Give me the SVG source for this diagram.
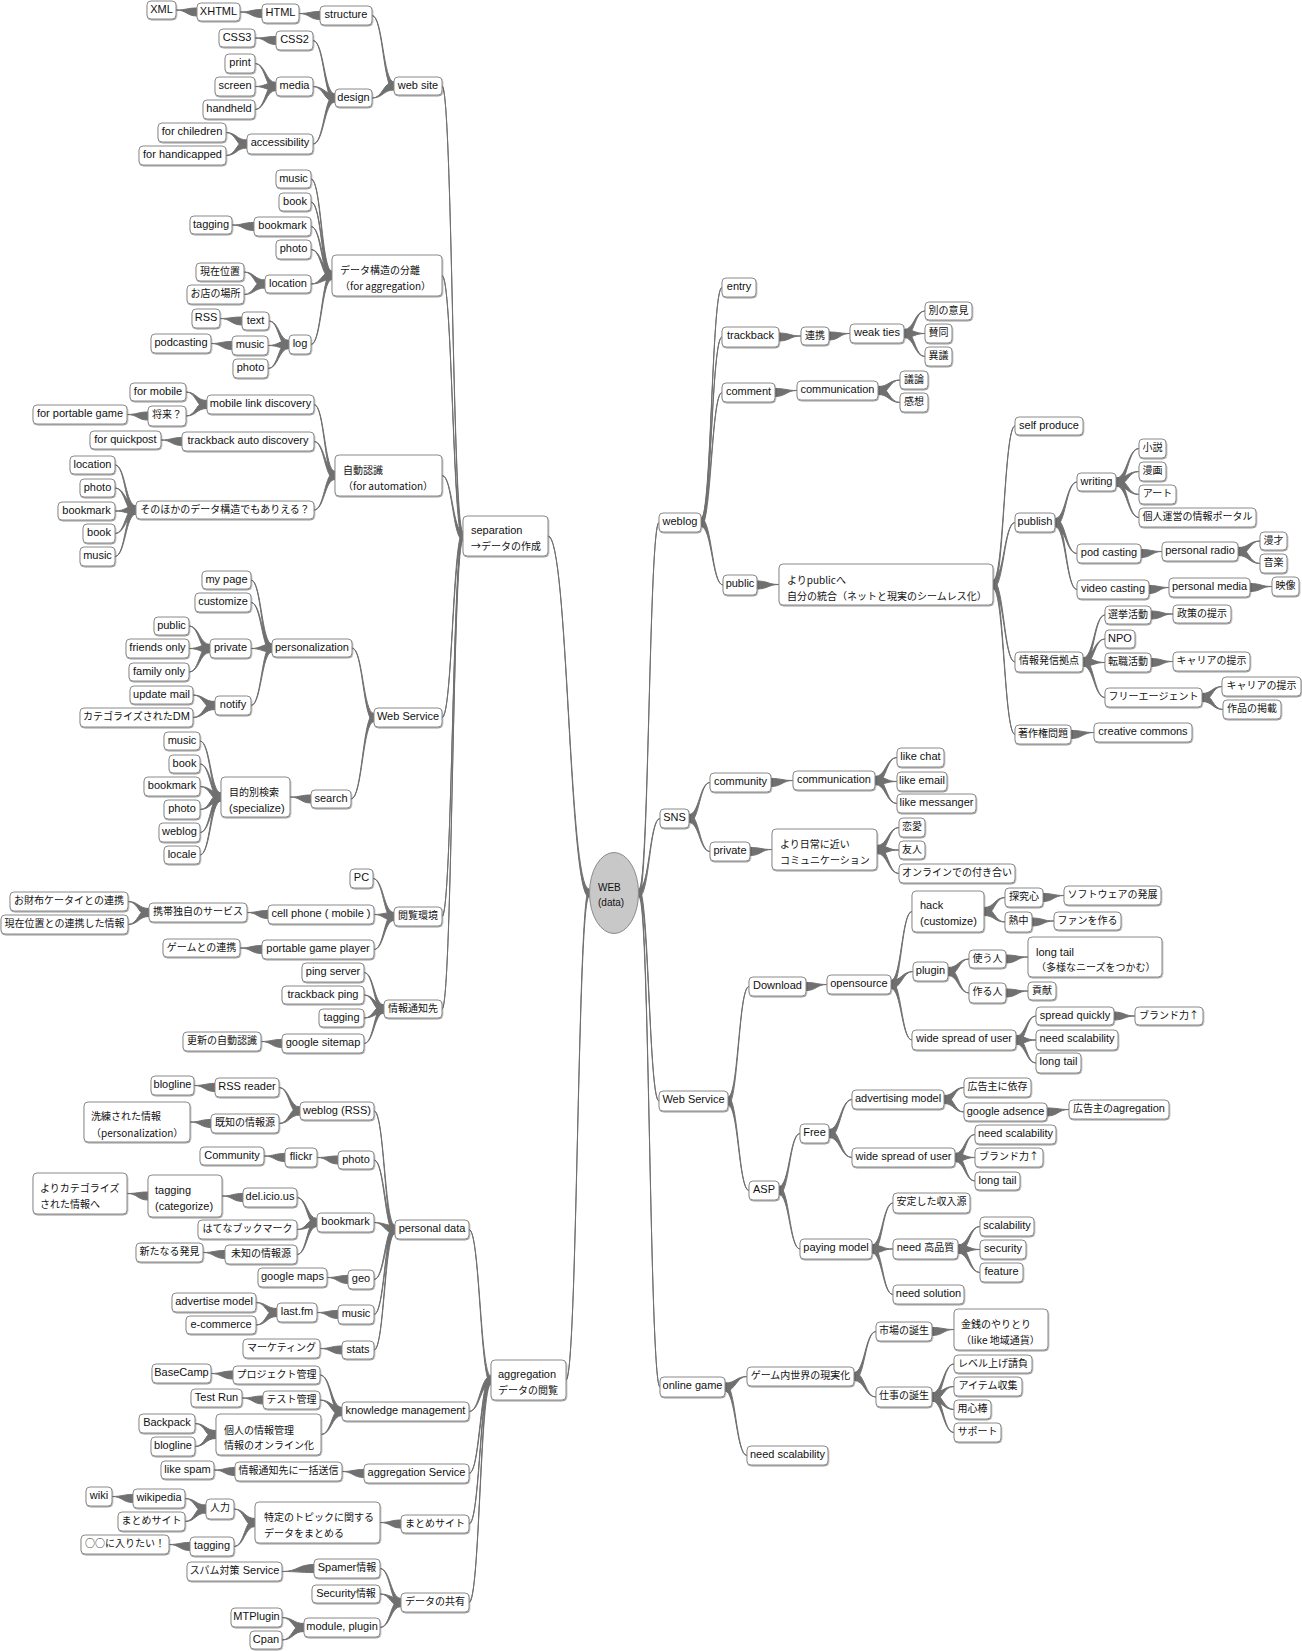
<svg xmlns="http://www.w3.org/2000/svg" width="1302" height="1651" viewBox="0 0 1302 1651">
<defs>
<filter id="sh" x="-10%" y="-20%" width="130%" height="160%"><feDropShadow dx="0.5" dy="1" stdDeviation="0.5" flood-color="#000" flood-opacity="0.4"/></filter>
<style>
#links path{fill:#707070;stroke:#707070;stroke-width:1;stroke-linejoin:round}
.n rect{fill:#fff;stroke:#8a8a8a;stroke-width:1;rx:4px;ry:4px;filter:url(#sh)}
.n text{font-family:"Liberation Sans","Noto Sans CJK JP",sans-serif;font-size:11px;fill:#111;text-anchor:middle}
.n text.l{text-anchor:start}
.n text.j,.n tspan.j{font-size:10px;font-family:"Noto Sans CJK JP","Liberation Sans",sans-serif}
#root ellipse{fill:#c8c8c8;stroke:#8a8a8a;stroke-width:1}
#root text{font-family:"Liberation Sans",sans-serif;font-size:10px;fill:#111}
</style>
</defs>
<rect width="1302" height="1651" fill="#fff"/>
<g id="links">
<path d="M548 536C568.5 536 568.5 889 589 889V897C568.5 897 568.5 536 548 536Z"/>
<path d="M566 1380C577.5 1380 577.5 889 589 889V897C577.5 897 577.5 1380 566 1380Z"/>
<path d="M442 86C452.5 86 452.5 532 463 532V540C452.5 540 452.5 86 442 86Z"/>
<path d="M442 275.5C452.5 275.5 452.5 532 463 532V540C452.5 540 452.5 275.5 442 275.5Z"/>
<path d="M442 475.5C452.5 475.5 452.5 532 463 532V540C452.5 540 452.5 475.5 442 475.5Z"/>
<path d="M442 717.5C452.5 717.5 452.5 532 463 532V540C452.5 540 452.5 717.5 442 717.5Z"/>
<path d="M442 916.5C452.5 916.5 452.5 532 463 532V540C452.5 540 452.5 916.5 442 916.5Z"/>
<path d="M442 1009C452.5 1009 452.5 532 463 532V540C452.5 540 452.5 1009 442 1009Z"/>
<path d="M372 15.5C383 15.5 383 82 394 82V90C383 90 383 15.5 372 15.5Z"/>
<path d="M372 98C383 98 383 82 394 82V90C383 90 383 98 372 98Z"/>
<path d="M299 13.5C309.5 13.5 309.5 11.5 320 11.5V19.5C309.5 19.5 309.5 13.5 299 13.5Z"/>
<path d="M240 12C251 12 251 9.5 262 9.5V17.5C251 17.5 251 12 240 12Z"/>
<path d="M176 10C186.5 10 186.5 8 197 8V16C186.5 16 186.5 10 176 10Z"/>
<path d="M313 40.5C324 40.5 324 94 335 94V102C324 102 324 40.5 313 40.5Z"/>
<path d="M313 86.5C324 86.5 324 94 335 94V102C324 102 324 86.5 313 86.5Z"/>
<path d="M313 144C324 144 324 94 335 94V102C324 102 324 144 313 144Z"/>
<path d="M255 38C265.5 38 265.5 36.5 276 36.5V44.5C265.5 44.5 265.5 38 255 38Z"/>
<path d="M255 63.5C265.5 63.5 265.5 82.5 276 82.5V90.5C265.5 90.5 265.5 63.5 255 63.5Z"/>
<path d="M255 86.5C265.5 86.5 265.5 82.5 276 82.5V90.5C265.5 90.5 265.5 86.5 255 86.5Z"/>
<path d="M255 109.5C265.5 109.5 265.5 82.5 276 82.5V90.5C265.5 90.5 265.5 109.5 255 109.5Z"/>
<path d="M226 132.5C236.5 132.5 236.5 140 247 140V148C236.5 148 236.5 132.5 226 132.5Z"/>
<path d="M226 155.5C236.5 155.5 236.5 140 247 140V148C236.5 148 236.5 155.5 226 155.5Z"/>
<path d="M311 179C321.5 179 321.5 271.5 332 271.5V279.5C321.5 279.5 321.5 179 311 179Z"/>
<path d="M311 202C321.5 202 321.5 271.5 332 271.5V279.5C321.5 279.5 321.5 202 311 202Z"/>
<path d="M311 226.5C321.5 226.5 321.5 271.5 332 271.5V279.5C321.5 279.5 321.5 226.5 311 226.5Z"/>
<path d="M311 249.5C321.5 249.5 321.5 271.5 332 271.5V279.5C321.5 279.5 321.5 249.5 311 249.5Z"/>
<path d="M311 284C321.5 284 321.5 271.5 332 271.5V279.5C321.5 279.5 321.5 284 311 284Z"/>
<path d="M311 344.5C321.5 344.5 321.5 271.5 332 271.5V279.5C321.5 279.5 321.5 344.5 311 344.5Z"/>
<path d="M232 225C243 225 243 222.5 254 222.5V230.5C243 230.5 243 225 232 225Z"/>
<path d="M244 272C254.5 272 254.5 280 265 280V288C254.5 288 254.5 272 244 272Z"/>
<path d="M244 294.5C254.5 294.5 254.5 280 265 280V288C254.5 288 254.5 294.5 244 294.5Z"/>
<path d="M269 321C279 321 279 340.5 289 340.5V348.5C279 348.5 279 321 269 321Z"/>
<path d="M268 345.5C278.5 345.5 278.5 340.5 289 340.5V348.5C278.5 348.5 278.5 345.5 268 345.5Z"/>
<path d="M268 368.5C278.5 368.5 278.5 340.5 289 340.5V348.5C278.5 348.5 278.5 368.5 268 368.5Z"/>
<path d="M220 318.5C231 318.5 231 317 242 317V325C231 325 231 318.5 220 318.5Z"/>
<path d="M211 343.5C221.5 343.5 221.5 341.5 232 341.5V349.5C221.5 349.5 221.5 343.5 211 343.5Z"/>
<path d="M314 404.5C324.5 404.5 324.5 471.5 335 471.5V479.5C324.5 479.5 324.5 404.5 314 404.5Z"/>
<path d="M314 441.5C324.5 441.5 324.5 471.5 335 471.5V479.5C324.5 479.5 324.5 441.5 314 441.5Z"/>
<path d="M314 510C324.5 510 324.5 471.5 335 471.5V479.5C324.5 479.5 324.5 510 314 510Z"/>
<path d="M186 392C196.5 392 196.5 400.5 207 400.5V408.5C196.5 408.5 196.5 392 186 392Z"/>
<path d="M186 416C196.5 416 196.5 400.5 207 400.5V408.5C196.5 408.5 196.5 416 186 416Z"/>
<path d="M127 414.5C137.5 414.5 137.5 412 148 412V420C137.5 420 137.5 414.5 127 414.5Z"/>
<path d="M161 440C171.5 440 171.5 437.5 182 437.5V445.5C171.5 445.5 171.5 440 161 440Z"/>
<path d="M115 465C125.5 465 125.5 506 136 506V514C125.5 514 125.5 465 115 465Z"/>
<path d="M115 488C125.5 488 125.5 506 136 506V514C125.5 514 125.5 488 115 488Z"/>
<path d="M115 511C125.5 511 125.5 506 136 506V514C125.5 514 125.5 511 115 511Z"/>
<path d="M115 533.5C125.5 533.5 125.5 506 136 506V514C125.5 514 125.5 533.5 115 533.5Z"/>
<path d="M115 556.5C125.5 556.5 125.5 506 136 506V514C125.5 514 125.5 556.5 115 556.5Z"/>
<path d="M352 648C363 648 363 713.5 374 713.5V721.5C363 721.5 363 648 352 648Z"/>
<path d="M351 799C362.5 799 362.5 713.5 374 713.5V721.5C362.5 721.5 362.5 799 351 799Z"/>
<path d="M251 580C261.5 580 261.5 644 272 644V652C261.5 652 261.5 580 251 580Z"/>
<path d="M251 602.5C261.5 602.5 261.5 644 272 644V652C261.5 652 261.5 602.5 251 602.5Z"/>
<path d="M251 648.5C261.5 648.5 261.5 644 272 644V652C261.5 652 261.5 648.5 251 648.5Z"/>
<path d="M251 705.5C261.5 705.5 261.5 644 272 644V652C261.5 652 261.5 705.5 251 705.5Z"/>
<path d="M189 626C199.5 626 199.5 644.5 210 644.5V652.5C199.5 652.5 199.5 626 189 626Z"/>
<path d="M189 648.5C199.5 648.5 199.5 644.5 210 644.5V652.5C199.5 652.5 199.5 648.5 189 648.5Z"/>
<path d="M189 672C199.5 672 199.5 644.5 210 644.5V652.5C199.5 652.5 199.5 672 189 672Z"/>
<path d="M193 695C204 695 204 701.5 215 701.5V709.5C204 709.5 204 695 193 695Z"/>
<path d="M193 717.5C204 717.5 204 701.5 215 701.5V709.5C204 709.5 204 717.5 193 717.5Z"/>
<path d="M290 797C300.5 797 300.5 795 311 795V803C300.5 803 300.5 797 290 797Z"/>
<path d="M200 741C210.5 741 210.5 793 221 793V801C210.5 801 210.5 741 200 741Z"/>
<path d="M200 764C210.5 764 210.5 793 221 793V801C210.5 801 210.5 764 200 764Z"/>
<path d="M200 786.5C210.5 786.5 210.5 793 221 793V801C210.5 801 210.5 786.5 200 786.5Z"/>
<path d="M200 809.5C210.5 809.5 210.5 793 221 793V801C210.5 801 210.5 809.5 200 809.5Z"/>
<path d="M200 832.5C210.5 832.5 210.5 793 221 793V801C210.5 801 210.5 832.5 200 832.5Z"/>
<path d="M200 855C210.5 855 210.5 793 221 793V801C210.5 801 210.5 855 200 855Z"/>
<path d="M373 878.5C383.5 878.5 383.5 912.5 394 912.5V920.5C383.5 920.5 383.5 878.5 373 878.5Z"/>
<path d="M374 914.5C384 914.5 384 912.5 394 912.5V920.5C384 920.5 384 914.5 374 914.5Z"/>
<path d="M374 949.5C384 949.5 384 912.5 394 912.5V920.5C384 920.5 384 949.5 374 949.5Z"/>
<path d="M247 912.5C257.5 912.5 257.5 910.5 268 910.5V918.5C257.5 918.5 257.5 912.5 247 912.5Z"/>
<path d="M128 901.5C138.5 901.5 138.5 908.5 149 908.5V916.5C138.5 916.5 138.5 901.5 128 901.5Z"/>
<path d="M128 924.5C138.5 924.5 138.5 908.5 149 908.5V916.5C138.5 916.5 138.5 924.5 128 924.5Z"/>
<path d="M240 948C251 948 251 945.5 262 945.5V953.5C251 953.5 251 948 240 948Z"/>
<path d="M364 972.5C374 972.5 374 1005 384 1005V1013C374 1013 374 972.5 364 972.5Z"/>
<path d="M364 995C374 995 374 1005 384 1005V1013C374 1013 374 995 364 995Z"/>
<path d="M364 1018C374 1018 374 1005 384 1005V1013C374 1013 374 1018 364 1018Z"/>
<path d="M364 1043.5C374 1043.5 374 1005 384 1005V1013C374 1013 374 1043.5 364 1043.5Z"/>
<path d="M261 1041.5C271.5 1041.5 271.5 1039.5 282 1039.5V1047.5C271.5 1047.5 271.5 1041.5 261 1041.5Z"/>
<path d="M469 1229.5C480 1229.5 480 1376 491 1376V1384C480 1384 480 1229.5 469 1229.5Z"/>
<path d="M469 1411.5C480 1411.5 480 1376 491 1376V1384C480 1384 480 1411.5 469 1411.5Z"/>
<path d="M469 1473.5C480 1473.5 480 1376 491 1376V1384C480 1384 480 1473.5 469 1473.5Z"/>
<path d="M469 1524C480 1524 480 1376 491 1376V1384C480 1384 480 1524 469 1524Z"/>
<path d="M469 1602.5C480 1602.5 480 1376 491 1376V1384C480 1384 480 1602.5 469 1602.5Z"/>
<path d="M374 1111C384.5 1111 384.5 1225.5 395 1225.5V1233.5C384.5 1233.5 384.5 1111 374 1111Z"/>
<path d="M374 1160C384.5 1160 384.5 1225.5 395 1225.5V1233.5C384.5 1233.5 384.5 1160 374 1160Z"/>
<path d="M374 1222.5C384.5 1222.5 384.5 1225.5 395 1225.5V1233.5C384.5 1233.5 384.5 1222.5 374 1222.5Z"/>
<path d="M374 1279.5C384.5 1279.5 384.5 1225.5 395 1225.5V1233.5C384.5 1233.5 384.5 1279.5 374 1279.5Z"/>
<path d="M374 1314.5C384.5 1314.5 384.5 1225.5 395 1225.5V1233.5C384.5 1233.5 384.5 1314.5 374 1314.5Z"/>
<path d="M374 1350C384.5 1350 384.5 1225.5 395 1225.5V1233.5C384.5 1233.5 384.5 1350 374 1350Z"/>
<path d="M279 1087.5C289.5 1087.5 289.5 1107 300 1107V1115C289.5 1115 289.5 1087.5 279 1087.5Z"/>
<path d="M279 1123.5C289.5 1123.5 289.5 1107 300 1107V1115C289.5 1115 289.5 1123.5 279 1123.5Z"/>
<path d="M194 1085.5C204.5 1085.5 204.5 1083.5 215 1083.5V1091.5C204.5 1091.5 204.5 1085.5 194 1085.5Z"/>
<path d="M190 1122C200.5 1122 200.5 1119.5 211 1119.5V1127.5C200.5 1127.5 200.5 1122 190 1122Z"/>
<path d="M317 1157.5C327.5 1157.5 327.5 1156 338 1156V1164C327.5 1164 327.5 1157.5 317 1157.5Z"/>
<path d="M264 1156C274.5 1156 274.5 1153.5 285 1153.5V1161.5C274.5 1161.5 274.5 1156 264 1156Z"/>
<path d="M297 1197.5C307 1197.5 307 1218.5 317 1218.5V1226.5C307 1226.5 307 1197.5 297 1197.5Z"/>
<path d="M297 1229.5C307 1229.5 307 1218.5 317 1218.5V1226.5C307 1226.5 307 1229.5 297 1229.5Z"/>
<path d="M297 1254.5C307 1254.5 307 1218.5 317 1218.5V1226.5C307 1226.5 307 1254.5 297 1254.5Z"/>
<path d="M222 1196C232.5 1196 232.5 1193.5 243 1193.5V1201.5C232.5 1201.5 232.5 1196 222 1196Z"/>
<path d="M127 1193.5C137.5 1193.5 137.5 1192 148 1192V1200C137.5 1200 137.5 1193.5 127 1193.5Z"/>
<path d="M203 1252.5C214 1252.5 214 1250.5 225 1250.5V1258.5C214 1258.5 214 1252.5 203 1252.5Z"/>
<path d="M327 1277.5C337.5 1277.5 337.5 1275.5 348 1275.5V1283.5C337.5 1283.5 337.5 1277.5 327 1277.5Z"/>
<path d="M317 1312.5C327.5 1312.5 327.5 1310.5 338 1310.5V1318.5C327.5 1318.5 327.5 1312.5 317 1312.5Z"/>
<path d="M256 1302.5C266.5 1302.5 266.5 1308.5 277 1308.5V1316.5C266.5 1316.5 266.5 1302.5 256 1302.5Z"/>
<path d="M256 1325C266.5 1325 266.5 1308.5 277 1308.5V1316.5C266.5 1316.5 266.5 1325 256 1325Z"/>
<path d="M320 1348.5C331 1348.5 331 1346 342 1346V1354C331 1354 331 1348.5 320 1348.5Z"/>
<path d="M320 1375C331 1375 331 1407.5 342 1407.5V1415.5C331 1415.5 331 1375 320 1375Z"/>
<path d="M320 1400C331 1400 331 1407.5 342 1407.5V1415.5C331 1415.5 331 1400 320 1400Z"/>
<path d="M321 1434.5C331.5 1434.5 331.5 1407.5 342 1407.5V1415.5C331.5 1415.5 331.5 1434.5 321 1434.5Z"/>
<path d="M211 1373.5C222 1373.5 222 1371 233 1371V1379C222 1379 222 1373.5 211 1373.5Z"/>
<path d="M242 1398C252.5 1398 252.5 1396 263 1396V1404C252.5 1404 252.5 1398 242 1398Z"/>
<path d="M195 1423.5C205.5 1423.5 205.5 1430.5 216 1430.5V1438.5C205.5 1438.5 205.5 1423.5 195 1423.5Z"/>
<path d="M195 1446.5C205.5 1446.5 205.5 1430.5 216 1430.5V1438.5C205.5 1438.5 205.5 1446.5 195 1446.5Z"/>
<path d="M342 1471.5C353 1471.5 353 1469.5 364 1469.5V1477.5C353 1477.5 353 1471.5 342 1471.5Z"/>
<path d="M214 1470C224.5 1470 224.5 1467.5 235 1467.5V1475.5C224.5 1475.5 224.5 1470 214 1470Z"/>
<path d="M380 1522.5C390.5 1522.5 390.5 1520 401 1520V1528C390.5 1528 390.5 1522.5 380 1522.5Z"/>
<path d="M234 1509C244.5 1509 244.5 1518.5 255 1518.5V1526.5C244.5 1526.5 244.5 1509 234 1509Z"/>
<path d="M234 1546.5C244.5 1546.5 244.5 1518.5 255 1518.5V1526.5C244.5 1526.5 244.5 1546.5 234 1546.5Z"/>
<path d="M185 1498.5C195.5 1498.5 195.5 1505 206 1505V1513C195.5 1513 195.5 1498.5 185 1498.5Z"/>
<path d="M185 1521.5C195.5 1521.5 195.5 1505 206 1505V1513C195.5 1513 195.5 1521.5 185 1521.5Z"/>
<path d="M112 1496.5C122.5 1496.5 122.5 1494.5 133 1494.5V1502.5C122.5 1502.5 122.5 1496.5 112 1496.5Z"/>
<path d="M169 1544.5C179.5 1544.5 179.5 1542.5 190 1542.5V1550.5C179.5 1550.5 179.5 1544.5 169 1544.5Z"/>
<path d="M380 1568.5C390.5 1568.5 390.5 1598.5 401 1598.5V1606.5C390.5 1606.5 390.5 1568.5 380 1568.5Z"/>
<path d="M380 1594C390.5 1594 390.5 1598.5 401 1598.5V1606.5C390.5 1606.5 390.5 1594 380 1594Z"/>
<path d="M380 1627.5C390.5 1627.5 390.5 1598.5 401 1598.5V1606.5C390.5 1606.5 390.5 1627.5 380 1627.5Z"/>
<path d="M282 1571.5C298 1571.5 298 1564.5 314 1564.5V1572.5C298 1572.5 298 1571.5 282 1571.5Z"/>
<path d="M282 1617.5C293 1617.5 293 1623.5 304 1623.5V1631.5C293 1631.5 293 1617.5 282 1617.5Z"/>
<path d="M282 1640C293 1640 293 1623.5 304 1623.5V1631.5C293 1631.5 293 1640 282 1640Z"/>
<path d="M659 522.5C649 522.5 649 889 639 889V897C649 897 649 522.5 659 522.5Z"/>
<path d="M660 818.5C649.5 818.5 649.5 889 639 889V897C649.5 897 649.5 818.5 660 818.5Z"/>
<path d="M659 1101C649 1101 649 889 639 889V897C649 897 649 1101 659 1101Z"/>
<path d="M660 1387C649.5 1387 649.5 889 639 889V897C649.5 897 649.5 1387 660 1387Z"/>
<path d="M722 287.5C711.5 287.5 711.5 518.5 701 518.5V526.5C711.5 526.5 711.5 287.5 722 287.5Z"/>
<path d="M722 337C711.5 337 711.5 518.5 701 518.5V526.5C711.5 526.5 711.5 337 722 337Z"/>
<path d="M722 392.5C711.5 392.5 711.5 518.5 701 518.5V526.5C711.5 526.5 711.5 392.5 722 392.5Z"/>
<path d="M723 585C712 585 712 518.5 701 518.5V526.5C712 526.5 712 585 723 585Z"/>
<path d="M801 336C790 336 790 333 779 333V341C790 341 790 336 801 336Z"/>
<path d="M850 333.5C839.5 333.5 839.5 332 829 332V340C839.5 340 839.5 333.5 850 333.5Z"/>
<path d="M925 311C914.5 311 914.5 329.5 904 329.5V337.5C914.5 337.5 914.5 311 925 311Z"/>
<path d="M925 333.5C914.5 333.5 914.5 329.5 904 329.5V337.5C914.5 337.5 914.5 333.5 925 333.5Z"/>
<path d="M925 356.5C914.5 356.5 914.5 329.5 904 329.5V337.5C914.5 337.5 914.5 356.5 925 356.5Z"/>
<path d="M797 390.5C786 390.5 786 388.5 775 388.5V396.5C786 396.5 786 390.5 797 390.5Z"/>
<path d="M900 380C889 380 889 386.5 878 386.5V394.5C889 394.5 889 380 900 380Z"/>
<path d="M900 402.5C889 402.5 889 386.5 878 386.5V394.5C889 394.5 889 402.5 900 402.5Z"/>
<path d="M779 584.5C768 584.5 768 581 757 581V589C768 589 768 584.5 779 584.5Z"/>
<path d="M1015 426C1004 426 1004 580.5 993 580.5V588.5C1004 588.5 1004 426 1015 426Z"/>
<path d="M1015 522.5C1004 522.5 1004 580.5 993 580.5V588.5C1004 588.5 1004 522.5 1015 522.5Z"/>
<path d="M1015 662C1004 662 1004 580.5 993 580.5V588.5C1004 588.5 1004 662 1015 662Z"/>
<path d="M1015 734.5C1004 734.5 1004 580.5 993 580.5V588.5C1004 588.5 1004 734.5 1015 734.5Z"/>
<path d="M1077 482C1066 482 1066 518.5 1055 518.5V526.5C1066 526.5 1066 482 1077 482Z"/>
<path d="M1077 553.5C1066 553.5 1066 518.5 1055 518.5V526.5C1066 526.5 1066 553.5 1077 553.5Z"/>
<path d="M1077 589.5C1066 589.5 1066 518.5 1055 518.5V526.5C1066 526.5 1066 589.5 1077 589.5Z"/>
<path d="M1139 448.5C1127.5 448.5 1127.5 478 1116 478V486C1127.5 486 1127.5 448.5 1139 448.5Z"/>
<path d="M1139 471.5C1127.5 471.5 1127.5 478 1116 478V486C1127.5 486 1127.5 471.5 1139 471.5Z"/>
<path d="M1139 494.5C1127.5 494.5 1127.5 478 1116 478V486C1127.5 486 1127.5 494.5 1139 494.5Z"/>
<path d="M1139 517.5C1127.5 517.5 1127.5 478 1116 478V486C1127.5 486 1127.5 517.5 1139 517.5Z"/>
<path d="M1162 551.5C1151.5 551.5 1151.5 549.5 1141 549.5V557.5C1151.5 557.5 1151.5 551.5 1162 551.5Z"/>
<path d="M1260 541C1249 541 1249 547.5 1238 547.5V555.5C1249 555.5 1249 541 1260 541Z"/>
<path d="M1260 563.5C1249 563.5 1249 547.5 1238 547.5V555.5C1249 555.5 1249 563.5 1260 563.5Z"/>
<path d="M1169 587.5C1159 587.5 1159 585.5 1149 585.5V593.5C1159 593.5 1159 587.5 1169 587.5Z"/>
<path d="M1272 586.5C1261 586.5 1261 583.5 1250 583.5V591.5C1261 591.5 1261 586.5 1272 586.5Z"/>
<path d="M1105 615C1094 615 1094 658 1083 658V666C1094 666 1094 615 1105 615Z"/>
<path d="M1105 639C1094 639 1094 658 1083 658V666C1094 666 1094 639 1105 639Z"/>
<path d="M1105 662.5C1094 662.5 1094 658 1083 658V666C1094 666 1094 662.5 1105 662.5Z"/>
<path d="M1105 697.5C1094 697.5 1094 658 1083 658V666C1094 666 1094 697.5 1105 697.5Z"/>
<path d="M1173 614C1162 614 1162 611 1151 611V619C1162 619 1162 614 1173 614Z"/>
<path d="M1173 661.5C1162 661.5 1162 658.5 1151 658.5V666.5C1162 666.5 1162 661.5 1173 661.5Z"/>
<path d="M1222 686.5C1212 686.5 1212 693.5 1202 693.5V701.5C1212 701.5 1212 686.5 1222 686.5Z"/>
<path d="M1223 709.5C1212.5 709.5 1212.5 693.5 1202 693.5V701.5C1212.5 701.5 1212.5 709.5 1223 709.5Z"/>
<path d="M1094 732.5C1082.5 732.5 1082.5 730.5 1071 730.5V738.5C1082.5 738.5 1082.5 732.5 1094 732.5Z"/>
<path d="M710 782.5C699.5 782.5 699.5 814.5 689 814.5V822.5C699.5 822.5 699.5 782.5 710 782.5Z"/>
<path d="M710 851.5C699.5 851.5 699.5 814.5 689 814.5V822.5C699.5 822.5 699.5 851.5 710 851.5Z"/>
<path d="M793 780.5C782 780.5 782 778.5 771 778.5V786.5C782 786.5 782 780.5 793 780.5Z"/>
<path d="M897 757.5C886 757.5 886 776.5 875 776.5V784.5C886 784.5 886 757.5 897 757.5Z"/>
<path d="M897 781.5C886 781.5 886 776.5 875 776.5V784.5C886 784.5 886 781.5 897 781.5Z"/>
<path d="M897 803.5C886 803.5 886 776.5 875 776.5V784.5C886 784.5 886 803.5 897 803.5Z"/>
<path d="M772 849.5C761 849.5 761 847.5 750 847.5V855.5C761 855.5 761 849.5 772 849.5Z"/>
<path d="M899 827.5C888 827.5 888 845.5 877 845.5V853.5C888 853.5 888 827.5 899 827.5Z"/>
<path d="M899 850C888 850 888 845.5 877 845.5V853.5C888 853.5 888 850 899 850Z"/>
<path d="M899 873.5C888 873.5 888 845.5 877 845.5V853.5C888 853.5 888 873.5 899 873.5Z"/>
<path d="M749 986.5C738.5 986.5 738.5 1097 728 1097V1105C738.5 1105 738.5 986.5 749 986.5Z"/>
<path d="M749 1190.5C738.5 1190.5 738.5 1097 728 1097V1105C738.5 1105 738.5 1190.5 749 1190.5Z"/>
<path d="M827 984.5C816.5 984.5 816.5 982.5 806 982.5V990.5C816.5 990.5 816.5 984.5 827 984.5Z"/>
<path d="M912 911.5C901.5 911.5 901.5 980.5 891 980.5V988.5C901.5 988.5 901.5 911.5 912 911.5Z"/>
<path d="M913 971.5C902 971.5 902 980.5 891 980.5V988.5C902 988.5 902 971.5 913 971.5Z"/>
<path d="M912 1040C901.5 1040 901.5 980.5 891 980.5V988.5C901.5 988.5 901.5 1040 912 1040Z"/>
<path d="M1005 897.5C994.5 897.5 994.5 907.5 984 907.5V915.5C994.5 915.5 994.5 897.5 1005 897.5Z"/>
<path d="M1005 922C994.5 922 994.5 907.5 984 907.5V915.5C994.5 915.5 994.5 922 1005 922Z"/>
<path d="M1064 895.5C1053.5 895.5 1053.5 893.5 1043 893.5V901.5C1053.5 901.5 1053.5 895.5 1064 895.5Z"/>
<path d="M1054 921C1043 921 1043 918 1032 918V926C1043 926 1043 921 1054 921Z"/>
<path d="M969 959C958.5 959 958.5 967.5 948 967.5V975.5C958.5 975.5 958.5 959 969 959Z"/>
<path d="M969 993C958.5 993 958.5 967.5 948 967.5V975.5C958.5 975.5 958.5 993 969 993Z"/>
<path d="M1028 957C1017 957 1017 955 1006 955V963C1017 963 1017 957 1028 957Z"/>
<path d="M1028 991C1017 991 1017 989 1006 989V997C1017 997 1017 991 1028 991Z"/>
<path d="M1036 1016C1026 1016 1026 1036 1016 1036V1044C1026 1044 1026 1016 1036 1016Z"/>
<path d="M1036 1040C1026 1040 1026 1036 1016 1036V1044C1026 1044 1026 1040 1036 1040Z"/>
<path d="M1036 1063C1026 1063 1026 1036 1016 1036V1044C1026 1044 1026 1063 1036 1063Z"/>
<path d="M1135 1016C1124.5 1016 1124.5 1012 1114 1012V1020C1124.5 1020 1124.5 1016 1135 1016Z"/>
<path d="M800 1133.5C789.5 1133.5 789.5 1186.5 779 1186.5V1194.5C789.5 1194.5 789.5 1133.5 800 1133.5Z"/>
<path d="M800 1249C789.5 1249 789.5 1186.5 779 1186.5V1194.5C789.5 1194.5 789.5 1249 800 1249Z"/>
<path d="M852 1099.5C840.5 1099.5 840.5 1129.5 829 1129.5V1137.5C840.5 1137.5 840.5 1099.5 852 1099.5Z"/>
<path d="M852 1157.5C840.5 1157.5 840.5 1129.5 829 1129.5V1137.5C840.5 1137.5 840.5 1157.5 852 1157.5Z"/>
<path d="M964 1087.5C954 1087.5 954 1095.5 944 1095.5V1103.5C954 1103.5 954 1087.5 964 1087.5Z"/>
<path d="M964 1112C954 1112 954 1095.5 944 1095.5V1103.5C954 1103.5 954 1112 964 1112Z"/>
<path d="M1069 1109.5C1058 1109.5 1058 1108 1047 1108V1116C1058 1116 1058 1109.5 1069 1109.5Z"/>
<path d="M975 1134.5C965 1134.5 965 1153.5 955 1153.5V1161.5C965 1161.5 965 1134.5 975 1134.5Z"/>
<path d="M975 1157.5C965 1157.5 965 1153.5 955 1153.5V1161.5C965 1161.5 965 1157.5 975 1157.5Z"/>
<path d="M975 1181C965 1181 965 1153.5 955 1153.5V1161.5C965 1161.5 965 1181 975 1181Z"/>
<path d="M893 1203C882.5 1203 882.5 1245 872 1245V1253C882.5 1253 882.5 1203 893 1203Z"/>
<path d="M893 1249C882.5 1249 882.5 1245 872 1245V1253C882.5 1253 882.5 1249 893 1249Z"/>
<path d="M893 1294.5C882.5 1294.5 882.5 1245 872 1245V1253C882.5 1253 882.5 1294.5 893 1294.5Z"/>
<path d="M980 1226.5C969 1226.5 969 1245 958 1245V1253C969 1253 969 1226.5 980 1226.5Z"/>
<path d="M980 1249.5C969 1249.5 969 1245 958 1245V1253C969 1253 969 1249.5 980 1249.5Z"/>
<path d="M980 1272.5C969 1272.5 969 1245 958 1245V1253C969 1253 969 1272.5 980 1272.5Z"/>
<path d="M747 1376.5C736 1376.5 736 1383 725 1383V1391C736 1391 736 1376.5 747 1376.5Z"/>
<path d="M747 1455.5C736 1455.5 736 1383 725 1383V1391C736 1391 736 1455.5 747 1455.5Z"/>
<path d="M876 1331.5C865 1331.5 865 1372.5 854 1372.5V1380.5C865 1380.5 865 1331.5 876 1331.5Z"/>
<path d="M876 1397C865 1397 865 1372.5 854 1372.5V1380.5C865 1380.5 865 1397 876 1397Z"/>
<path d="M954 1329.5C943 1329.5 943 1327.5 932 1327.5V1335.5C943 1335.5 943 1329.5 954 1329.5Z"/>
<path d="M954 1364C943 1364 943 1393 932 1393V1401C943 1401 943 1364 954 1364Z"/>
<path d="M954 1386.5C943 1386.5 943 1393 932 1393V1401C943 1401 943 1386.5 954 1386.5Z"/>
<path d="M954 1409.5C943 1409.5 943 1393 932 1393V1401C943 1401 943 1409.5 954 1409.5Z"/>
<path d="M954 1432.5C943 1432.5 943 1393 932 1393V1401C943 1401 943 1432.5 954 1432.5Z"/>
</g>
<g id="root"><ellipse cx="614" cy="893" rx="24.5" ry="40.5"/><text x="598" y="891">WEB</text><text x="598" y="906">(data)</text></g>
<g id="n-sep" class="n"><rect x="463" y="516" width="85" height="40"/><text class="l" x="471" y="534">separation<tspan class="j" x="471" y="549.5">→データの作成</tspan></text></g>
<g id="n-website" class="n"><rect x="394" y="77" width="48" height="18"/><text x="418" y="88.5">web site</text></g>
<g id="n-structure" class="n"><rect x="320" y="6" width="52" height="19"/><text x="346" y="17.5">structure</text></g>
<g id="n-html" class="n"><rect x="262" y="4" width="37" height="19"/><text x="280.5" y="15.5">HTML</text></g>
<g id="n-xhtml" class="n"><rect x="197" y="3" width="43" height="18"/><text x="218.5" y="14.5">XHTML</text></g>
<g id="n-xml" class="n"><rect x="147" y="1" width="29" height="18"/><text x="161.5" y="12.5">XML</text></g>
<g id="n-design" class="n"><rect x="335" y="89" width="37" height="18"/><text x="353.5" y="100.5">design</text></g>
<g id="n-css2" class="n"><rect x="276" y="31" width="37" height="19"/><text x="294.5" y="42.5">CSS2</text></g>
<g id="n-css3" class="n"><rect x="219" y="29" width="36" height="18"/><text x="237" y="40.5">CSS3</text></g>
<g id="n-media" class="n"><rect x="276" y="77" width="37" height="19"/><text x="294.5" y="88.5">media</text></g>
<g id="n-print" class="n"><rect x="225" y="54" width="30" height="19"/><text x="240" y="65.5">print</text></g>
<g id="n-screen" class="n"><rect x="215" y="77" width="40" height="19"/><text x="235" y="88.5">screen</text></g>
<g id="n-handheld" class="n"><rect x="203" y="100" width="52" height="19"/><text x="229" y="111.5">handheld</text></g>
<g id="n-access" class="n"><rect x="247" y="134" width="66" height="20"/><text x="280" y="145.5">accessibility</text></g>
<g id="n-chil" class="n"><rect x="158" y="123" width="68" height="19"/><text x="192" y="134.5">for chiledren</text></g>
<g id="n-handi" class="n"><rect x="139" y="146" width="87" height="19"/><text x="182.5" y="157.5">for handicapped</text></g>
<g id="n-dataseg" class="n"><rect x="332" y="255" width="110" height="41"/><text class="l j" x="340" y="273.5">データ構造の分離<tspan x="340" y="289.5">（for aggregation）</tspan></text></g>
<g id="n-ds-music" class="n"><rect x="276" y="170" width="35" height="18"/><text x="293.5" y="181.5">music</text></g>
<g id="n-ds-book" class="n"><rect x="279" y="193" width="32" height="18"/><text x="295" y="204.5">book</text></g>
<g id="n-ds-bookmark" class="n"><rect x="254" y="217" width="57" height="19"/><text x="282.5" y="228.5">bookmark</text></g>
<g id="n-ds-tagging" class="n"><rect x="190" y="216" width="42" height="18"/><text x="211" y="227.5">tagging</text></g>
<g id="n-ds-photo" class="n"><rect x="276" y="240" width="35" height="19"/><text x="293.5" y="251.5">photo</text></g>
<g id="n-ds-location" class="n"><rect x="265" y="275" width="46" height="18"/><text x="288" y="286.5">location</text></g>
<g id="n-genzai" class="n"><rect x="196" y="263" width="48" height="18"/><text class="j" x="220" y="274.5">現在位置</text></g>
<g id="n-omise" class="n"><rect x="187" y="285" width="57" height="19"/><text class="j" x="215.5" y="296.5">お店の場所</text></g>
<g id="n-log" class="n"><rect x="289" y="335" width="22" height="19"/><text x="300" y="346.5">log</text></g>
<g id="n-log-text" class="n"><rect x="242" y="312" width="27" height="18"/><text x="255.5" y="323.5">text</text></g>
<g id="n-rss" class="n"><rect x="192" y="309" width="28" height="19"/><text x="206" y="320.5">RSS</text></g>
<g id="n-log-music" class="n"><rect x="232" y="336" width="36" height="19"/><text x="250" y="347.5">music</text></g>
<g id="n-podcasting" class="n"><rect x="151" y="334" width="60" height="19"/><text x="181" y="345.5">podcasting</text></g>
<g id="n-log-photo" class="n"><rect x="233" y="359" width="35" height="19"/><text x="250.5" y="370.5">photo</text></g>
<g id="n-auto" class="n"><rect x="335" y="455" width="107" height="41"/><text class="l j" x="343" y="474">自動認識<tspan x="343" y="490">（for automation）</tspan></text></g>
<g id="n-mld" class="n"><rect x="207" y="395" width="107" height="19"/><text x="260.5" y="406.5">mobile link discovery</text></g>
<g id="n-formobile" class="n"><rect x="130" y="383" width="56" height="18"/><text x="158" y="394.5">for mobile</text></g>
<g id="n-shorai" class="n"><rect x="148" y="406" width="38" height="20"/><text class="j" x="167" y="417.5">将来？</text></g>
<g id="n-fpg" class="n"><rect x="33" y="405" width="94" height="19"/><text x="80" y="416.5">for portable game</text></g>
<g id="n-tad" class="n"><rect x="182" y="432" width="132" height="19"/><text x="248" y="443.5">trackback auto discovery</text></g>
<g id="n-fqp" class="n"><rect x="90" y="431" width="71" height="18"/><text x="125.5" y="442.5">for quickpost</text></g>
<g id="n-sonota" class="n"><rect x="136" y="501" width="178" height="18"/><text class="j" x="225" y="512.5">そのほかのデータ構造でもありえる？</text></g>
<g id="n-so-location" class="n"><rect x="70" y="456" width="45" height="18"/><text x="92.5" y="467.5">location</text></g>
<g id="n-so-photo" class="n"><rect x="80" y="479" width="35" height="18"/><text x="97.5" y="490.5">photo</text></g>
<g id="n-so-bookmark" class="n"><rect x="58" y="502" width="57" height="18"/><text x="86.5" y="513.5">bookmark</text></g>
<g id="n-so-book" class="n"><rect x="83" y="524" width="32" height="19"/><text x="99" y="535.5">book</text></g>
<g id="n-so-music" class="n"><rect x="80" y="547" width="35" height="19"/><text x="97.5" y="558.5">music</text></g>
<g id="n-wsl" class="n"><rect x="374" y="708" width="68" height="19"/><text x="408" y="719.5">Web Service</text></g>
<g id="n-personalization" class="n"><rect x="272" y="639" width="80" height="18"/><text x="312" y="650.5">personalization</text></g>
<g id="n-mypage" class="n"><rect x="202" y="571" width="49" height="18"/><text x="226.5" y="582.5">my page</text></g>
<g id="n-customize" class="n"><rect x="195" y="593" width="56" height="19"/><text x="223" y="604.5">customize</text></g>
<g id="n-pv" class="n"><rect x="210" y="639" width="41" height="19"/><text x="230.5" y="650.5">private</text></g>
<g id="n-public-l" class="n"><rect x="154" y="617" width="35" height="18"/><text x="171.5" y="628.5">public</text></g>
<g id="n-friends" class="n"><rect x="126" y="639" width="63" height="19"/><text x="157.5" y="650.5">friends only</text></g>
<g id="n-family" class="n"><rect x="129" y="663" width="60" height="18"/><text x="159" y="674.5">family only</text></g>
<g id="n-notify" class="n"><rect x="215" y="696" width="36" height="19"/><text x="233" y="707.5">notify</text></g>
<g id="n-update" class="n"><rect x="130" y="686" width="63" height="18"/><text x="161.5" y="697.5">update mail</text></g>
<g id="n-catdm" class="n"><rect x="80" y="708" width="113" height="19"/><text x="136.5" y="719.5"><tspan class="j">カテゴライズされた</tspan>DM</text></g>
<g id="n-search" class="n"><rect x="311" y="790" width="40" height="18"/><text x="331" y="801.5">search</text></g>
<g id="n-mokuteki" class="n"><rect x="221" y="777" width="69" height="40"/><text class="l" x="229" y="796"><tspan class="j">目的別検索</tspan><tspan x="229" y="811.5">(specialize)</tspan></text></g>
<g id="n-se-music" class="n"><rect x="164" y="732" width="36" height="18"/><text x="182" y="743.5">music</text></g>
<g id="n-se-book" class="n"><rect x="169" y="755" width="31" height="18"/><text x="184.5" y="766.5">book</text></g>
<g id="n-se-bookmark" class="n"><rect x="144" y="777" width="56" height="19"/><text x="172" y="788.5">bookmark</text></g>
<g id="n-se-photo" class="n"><rect x="164" y="800" width="36" height="19"/><text x="182" y="811.5">photo</text></g>
<g id="n-se-weblog" class="n"><rect x="159" y="823" width="41" height="19"/><text x="179.5" y="834.5">weblog</text></g>
<g id="n-se-locale" class="n"><rect x="164" y="846" width="36" height="18"/><text x="182" y="857.5">locale</text></g>
<g id="n-view" class="n"><rect x="394" y="907" width="48" height="19"/><text class="j" x="418" y="918.5">閲覧環境</text></g>
<g id="n-pc" class="n"><rect x="350" y="869" width="23" height="19"/><text x="361.5" y="880.5">PC</text></g>
<g id="n-cell" class="n"><rect x="268" y="905" width="106" height="19"/><text x="321" y="916.5">cell phone ( mobile )</text></g>
<g id="n-keitai" class="n"><rect x="149" y="903" width="98" height="19"/><text class="j" x="198" y="914.5">携帯独自のサービス</text></g>
<g id="n-osaifu" class="n"><rect x="10" y="892" width="118" height="19"/><text class="j" x="69" y="903.5">お財布ケータイとの連携</text></g>
<g id="n-genzai2" class="n"><rect x="1" y="915" width="127" height="19"/><text class="j" x="64.5" y="926.5">現在位置との連携した情報</text></g>
<g id="n-pgp" class="n"><rect x="262" y="940" width="112" height="19"/><text x="318" y="951.5">portable game player</text></g>
<g id="n-gamerenkei" class="n"><rect x="163" y="939" width="77" height="18"/><text class="j" x="201.5" y="950.5">ゲームとの連携</text></g>
<g id="n-tsuchi" class="n"><rect x="384" y="1000" width="58" height="18"/><text class="j" x="413" y="1011.5">情報通知先</text></g>
<g id="n-ping" class="n"><rect x="302" y="963" width="62" height="19"/><text x="333" y="974.5">ping server</text></g>
<g id="n-tbping" class="n"><rect x="282" y="986" width="82" height="18"/><text x="323" y="997.5">trackback ping</text></g>
<g id="n-tsu-tagging" class="n"><rect x="319" y="1009" width="45" height="18"/><text x="341.5" y="1020.5">tagging</text></g>
<g id="n-gsm" class="n"><rect x="282" y="1034" width="82" height="19"/><text x="323" y="1045.5">google sitemap</text></g>
<g id="n-koshin" class="n"><rect x="183" y="1032" width="78" height="19"/><text class="j" x="222" y="1043.5">更新の自動認識</text></g>
<g id="n-agg" class="n"><rect x="491" y="1360" width="75" height="40"/><text class="l" x="498" y="1378">aggregation<tspan class="j" x="498" y="1393.5">データの閲覧</tspan></text></g>
<g id="n-pd" class="n"><rect x="395" y="1220" width="74" height="19"/><text x="432" y="1231.5">personal data</text></g>
<g id="n-wrss" class="n"><rect x="300" y="1102" width="74" height="18"/><text x="337" y="1113.5">weblog (RSS)</text></g>
<g id="n-rssr" class="n"><rect x="215" y="1078" width="64" height="19"/><text x="247" y="1089.5">RSS reader</text></g>
<g id="n-blogline1" class="n"><rect x="151" y="1076" width="43" height="19"/><text x="172.5" y="1087.5">blogline</text></g>
<g id="n-kichi" class="n"><rect x="211" y="1114" width="68" height="19"/><text class="j" x="245" y="1125.5">既知の情報源</text></g>
<g id="n-senren" class="n"><rect x="84" y="1102" width="106" height="40"/><text class="l j" x="91" y="1120">洗練された情報<tspan x="91" y="1136.5">（personalization）</tspan></text></g>
<g id="n-pd-photo" class="n"><rect x="338" y="1151" width="36" height="18"/><text x="356" y="1162.5">photo</text></g>
<g id="n-flickr" class="n"><rect x="285" y="1148" width="32" height="19"/><text x="301" y="1159.5">flickr</text></g>
<g id="n-community-l" class="n"><rect x="200" y="1147" width="64" height="18"/><text x="232" y="1158.5">Community</text></g>
<g id="n-pd-bookmark" class="n"><rect x="317" y="1213" width="57" height="19"/><text x="345.5" y="1224.5">bookmark</text></g>
<g id="n-delicious" class="n"><rect x="243" y="1188" width="54" height="19"/><text x="270" y="1199.5">del.icio.us</text></g>
<g id="n-tagcat" class="n"><rect x="148" y="1175" width="74" height="42"/><text class="l" x="155" y="1194">tagging<tspan x="155" y="1210">(categorize)</tspan></text></g>
<g id="n-yoricat" class="n"><rect x="33" y="1173" width="94" height="41"/><text class="l j" x="40" y="1192">よりカテゴライズ<tspan x="40" y="1208">された情報へ</tspan></text></g>
<g id="n-hatena" class="n"><rect x="198" y="1220" width="99" height="19"/><text class="j" x="247.5" y="1231.5">はてなブックマーク</text></g>
<g id="n-michi" class="n"><rect x="225" y="1245" width="72" height="19"/><text class="j" x="261" y="1256.5">未知の情報源</text></g>
<g id="n-aratanaru" class="n"><rect x="136" y="1243" width="67" height="19"/><text class="j" x="169.5" y="1254.5">新たなる発見</text></g>
<g id="n-geo" class="n"><rect x="348" y="1270" width="26" height="19"/><text x="361" y="1281.5">geo</text></g>
<g id="n-gmaps" class="n"><rect x="258" y="1268" width="69" height="19"/><text x="292.5" y="1279.5">google maps</text></g>
<g id="n-pd-music" class="n"><rect x="338" y="1305" width="36" height="19"/><text x="356" y="1316.5">music</text></g>
<g id="n-lastfm" class="n"><rect x="277" y="1303" width="40" height="19"/><text x="297" y="1314.5">last.fm</text></g>
<g id="n-admodel" class="n"><rect x="172" y="1293" width="84" height="19"/><text x="214" y="1304.5">advertise model</text></g>
<g id="n-ecom" class="n"><rect x="186" y="1316" width="70" height="18"/><text x="221" y="1327.5">e-commerce</text></g>
<g id="n-stats" class="n"><rect x="342" y="1341" width="32" height="18"/><text x="358" y="1352.5">stats</text></g>
<g id="n-marketing" class="n"><rect x="243" y="1339" width="77" height="19"/><text class="j" x="281.5" y="1350.5">マーケティング</text></g>
<g id="n-km" class="n"><rect x="342" y="1402" width="127" height="19"/><text x="405.5" y="1413.5">knowledge management</text></g>
<g id="n-pj" class="n"><rect x="233" y="1366" width="87" height="18"/><text class="j" x="276.5" y="1377.5">プロジェクト管理</text></g>
<g id="n-basecamp" class="n"><rect x="152" y="1364" width="59" height="19"/><text x="181.5" y="1375.5">BaseCamp</text></g>
<g id="n-test" class="n"><rect x="263" y="1391" width="57" height="18"/><text class="j" x="291.5" y="1402.5">テスト管理</text></g>
<g id="n-testrun" class="n"><rect x="191" y="1389" width="51" height="18"/><text x="216.5" y="1400.5">Test Run</text></g>
<g id="n-kojin" class="n"><rect x="216" y="1414" width="105" height="41"/><text class="l j" x="224" y="1434">個人の情報管理<tspan x="224" y="1449">情報のオンライン化</tspan></text></g>
<g id="n-backpack" class="n"><rect x="139" y="1414" width="56" height="19"/><text x="167" y="1425.5">Backpack</text></g>
<g id="n-blogline2" class="n"><rect x="151" y="1437" width="44" height="19"/><text x="173" y="1448.5">blogline</text></g>
<g id="n-aggs" class="n"><rect x="364" y="1464" width="105" height="19"/><text x="416.5" y="1475.5">aggregation Service</text></g>
<g id="n-ikkatsu" class="n"><rect x="235" y="1462" width="107" height="19"/><text class="j" x="288.5" y="1473.5">情報通知先に一括送信</text></g>
<g id="n-likespam" class="n"><rect x="161" y="1461" width="53" height="18"/><text x="187.5" y="1472.5">like spam</text></g>
<g id="n-matome" class="n"><rect x="401" y="1515" width="68" height="18"/><text class="j" x="435" y="1526.5">まとめサイト</text></g>
<g id="n-tokutei" class="n"><rect x="255" y="1502" width="125" height="41"/><text class="l j" x="264" y="1521">特定のトピックに関する<tspan x="264" y="1536.5">データをまとめる</tspan></text></g>
<g id="n-jinriki" class="n"><rect x="206" y="1499" width="28" height="20"/><text class="j" x="220" y="1510.5">人力</text></g>
<g id="n-wikipedia" class="n"><rect x="133" y="1489" width="52" height="19"/><text x="159" y="1500.5">wikipedia</text></g>
<g id="n-wiki" class="n"><rect x="86" y="1487" width="26" height="19"/><text x="99" y="1498.5">wiki</text></g>
<g id="n-matome2" class="n"><rect x="118" y="1512" width="67" height="19"/><text class="j" x="151.5" y="1523.5">まとめサイト</text></g>
<g id="n-mt-tagging" class="n"><rect x="190" y="1537" width="44" height="19"/><text x="212" y="1548.5">tagging</text></g>
<g id="n-hairitai" class="n"><rect x="81" y="1535" width="88" height="19"/><text class="j" x="125" y="1546.5">○○に入りたい！</text></g>
<g id="n-kyoyu" class="n"><rect x="401" y="1593" width="68" height="19"/><text class="j" x="435" y="1604.5">データの共有</text></g>
<g id="n-spamer" class="n"><rect x="314" y="1559" width="66" height="19"/><text x="347" y="1570.5">Spamer<tspan class="j">情報</tspan></text></g>
<g id="n-spamtaisaku" class="n"><rect x="187" y="1562" width="95" height="19"/><text x="234.5" y="1573.5"><tspan class="j">スパム対策</tspan> Service</text></g>
<g id="n-security-l" class="n"><rect x="312" y="1585" width="68" height="18"/><text x="346" y="1596.5">Security<tspan class="j">情報</tspan></text></g>
<g id="n-module" class="n"><rect x="304" y="1618" width="76" height="19"/><text x="342" y="1629.5">module, plugin</text></g>
<g id="n-mtplugin" class="n"><rect x="231" y="1608" width="51" height="19"/><text x="256.5" y="1619.5">MTPlugin</text></g>
<g id="n-cpan" class="n"><rect x="250" y="1631" width="32" height="18"/><text x="266" y="1642.5">Cpan</text></g>
<g id="n-weblog" class="n"><rect x="659" y="513" width="42" height="19"/><text x="680" y="524.5">weblog</text></g>
<g id="n-entry" class="n"><rect x="722" y="278" width="34" height="19"/><text x="739" y="289.5">entry</text></g>
<g id="n-trackback" class="n"><rect x="722" y="327" width="57" height="20"/><text x="750.5" y="338.5">trackback</text></g>
<g id="n-renkei" class="n"><rect x="801" y="327" width="28" height="18"/><text class="j" x="815" y="338.5">連携</text></g>
<g id="n-weakties" class="n"><rect x="850" y="324" width="54" height="19"/><text x="877" y="335.5">weak ties</text></g>
<g id="n-betsu" class="n"><rect x="925" y="302" width="47" height="18"/><text class="j" x="948.5" y="313.5">別の意見</text></g>
<g id="n-sando" class="n"><rect x="925" y="324" width="27" height="19"/><text class="j" x="938.5" y="335.5">賛同</text></g>
<g id="n-igi" class="n"><rect x="925" y="347" width="27" height="19"/><text class="j" x="938.5" y="358.5">異議</text></g>
<g id="n-comment" class="n"><rect x="722" y="383" width="53" height="19"/><text x="748.5" y="394.5">comment</text></g>
<g id="n-communication1" class="n"><rect x="797" y="381" width="81" height="19"/><text x="837.5" y="392.5">communication</text></g>
<g id="n-giron" class="n"><rect x="900" y="371" width="28" height="18"/><text class="j" x="914" y="382.5">議論</text></g>
<g id="n-kanso" class="n"><rect x="900" y="393" width="28" height="19"/><text class="j" x="914" y="404.5">感想</text></g>
<g id="n-public-r" class="n"><rect x="723" y="575" width="34" height="20"/><text x="740" y="586.5">public</text></g>
<g id="n-yoripublic" class="n"><rect x="779" y="564" width="214" height="41"/><text class="l j" x="787" y="584">よりpublicへ<tspan x="787" y="600">自分の統合（ネットと現実のシームレス化）</tspan></text></g>
<g id="n-selfproduce" class="n"><rect x="1015" y="417" width="68" height="18"/><text x="1049" y="428.5">self produce</text></g>
<g id="n-publish" class="n"><rect x="1015" y="513" width="40" height="19"/><text x="1035" y="524.5">publish</text></g>
<g id="n-writing" class="n"><rect x="1077" y="473" width="39" height="18"/><text x="1096.5" y="484.5">writing</text></g>
<g id="n-shosetsu" class="n"><rect x="1139" y="439" width="27" height="19"/><text class="j" x="1152.5" y="450.5">小説</text></g>
<g id="n-manga" class="n"><rect x="1139" y="462" width="27" height="19"/><text class="j" x="1152.5" y="473.5">漫画</text></g>
<g id="n-art" class="n"><rect x="1139" y="485" width="37" height="19"/><text class="j" x="1157.5" y="496.5">アート</text></g>
<g id="n-portal" class="n"><rect x="1139" y="508" width="117" height="19"/><text class="j" x="1197.5" y="519.5">個人運営の情報ポータル</text></g>
<g id="n-podcasting-r" class="n"><rect x="1077" y="544" width="64" height="19"/><text x="1109" y="555.5">pod casting</text></g>
<g id="n-pradio" class="n"><rect x="1162" y="542" width="76" height="19"/><text x="1200" y="553.5">personal radio</text></g>
<g id="n-manzai" class="n"><rect x="1260" y="532" width="27" height="18"/><text class="j" x="1273.5" y="543.5">漫才</text></g>
<g id="n-ongaku" class="n"><rect x="1260" y="554" width="27" height="19"/><text class="j" x="1273.5" y="565.5">音楽</text></g>
<g id="n-videocasting" class="n"><rect x="1077" y="580" width="72" height="19"/><text x="1113" y="591.5">video casting</text></g>
<g id="n-pmedia" class="n"><rect x="1169" y="578" width="81" height="19"/><text x="1209.5" y="589.5">personal media</text></g>
<g id="n-eizo" class="n"><rect x="1272" y="577" width="27" height="19"/><text class="j" x="1285.5" y="588.5">映像</text></g>
<g id="n-hasshin" class="n"><rect x="1015" y="652" width="68" height="20"/><text class="j" x="1049" y="663.5">情報発信拠点</text></g>
<g id="n-senkyo" class="n"><rect x="1105" y="606" width="46" height="18"/><text class="j" x="1128" y="617.5">選挙活動</text></g>
<g id="n-seisaku" class="n"><rect x="1173" y="605" width="58" height="18"/><text class="j" x="1202" y="616.5">政策の提示</text></g>
<g id="n-npo" class="n"><rect x="1105" y="630" width="30" height="18"/><text x="1120" y="641.5">NPO</text></g>
<g id="n-tenshoku" class="n"><rect x="1105" y="653" width="46" height="19"/><text class="j" x="1128" y="664.5">転職活動</text></g>
<g id="n-career1" class="n"><rect x="1173" y="652" width="77" height="19"/><text class="j" x="1211.5" y="663.5">キャリアの提示</text></g>
<g id="n-freeagent" class="n"><rect x="1105" y="688" width="97" height="19"/><text class="j" x="1153.5" y="699.5">フリーエージェント</text></g>
<g id="n-career2" class="n"><rect x="1222" y="677" width="79" height="19"/><text class="j" x="1261.5" y="688.5">キャリアの提示</text></g>
<g id="n-sakuhin" class="n"><rect x="1223" y="700" width="58" height="19"/><text class="j" x="1252" y="711.5">作品の掲載</text></g>
<g id="n-chosaku" class="n"><rect x="1015" y="725" width="56" height="19"/><text class="j" x="1043" y="736.5">著作権問題</text></g>
<g id="n-cc" class="n"><rect x="1094" y="723" width="98" height="19"/><text x="1143" y="734.5">creative commons</text></g>
<g id="n-sns" class="n"><rect x="660" y="809" width="29" height="19"/><text x="674.5" y="820.5">SNS</text></g>
<g id="n-community-r" class="n"><rect x="710" y="773" width="61" height="19"/><text x="740.5" y="784.5">community</text></g>
<g id="n-communication2" class="n"><rect x="793" y="771" width="82" height="19"/><text x="834" y="782.5">communication</text></g>
<g id="n-likechat" class="n"><rect x="897" y="748" width="47" height="19"/><text x="920.5" y="759.5">like chat</text></g>
<g id="n-likeemail" class="n"><rect x="897" y="772" width="50" height="19"/><text x="922" y="783.5">like email</text></g>
<g id="n-likemess" class="n"><rect x="897" y="794" width="79" height="19"/><text x="936.5" y="805.5">like messanger</text></g>
<g id="n-private-r" class="n"><rect x="710" y="842" width="40" height="19"/><text x="730" y="853.5">private</text></g>
<g id="n-nichijo" class="n"><rect x="772" y="829" width="105" height="41"/><text class="l j" x="780" y="848">より日常に近い<tspan x="780" y="864">コミュニケーション</tspan></text></g>
<g id="n-renai" class="n"><rect x="899" y="818" width="26" height="19"/><text class="j" x="912" y="829.5">恋愛</text></g>
<g id="n-yujin" class="n"><rect x="899" y="841" width="26" height="18"/><text class="j" x="912" y="852.5">友人</text></g>
<g id="n-online" class="n"><rect x="899" y="864" width="116" height="19"/><text class="j" x="957" y="875.5">オンラインでの付き合い</text></g>
<g id="n-wsr" class="n"><rect x="659" y="1091" width="69" height="20"/><text x="693.5" y="1102.5">Web Service</text></g>
<g id="n-download" class="n"><rect x="749" y="977" width="57" height="19"/><text x="777.5" y="988.5">Download</text></g>
<g id="n-opensource" class="n"><rect x="827" y="975" width="64" height="19"/><text x="859" y="986.5">opensource</text></g>
<g id="n-hack" class="n"><rect x="912" y="891" width="72" height="41"/><text class="l" x="920" y="909">hack<tspan x="920" y="925">(customize)</tspan></text></g>
<g id="n-tankyu" class="n"><rect x="1005" y="888" width="38" height="19"/><text class="j" x="1024" y="899.5">探究心</text></g>
<g id="n-software" class="n"><rect x="1064" y="886" width="97" height="19"/><text class="j" x="1112.5" y="897.5">ソフトウェアの発展</text></g>
<g id="n-necchu" class="n"><rect x="1005" y="912" width="27" height="20"/><text class="j" x="1018.5" y="923.5">熱中</text></g>
<g id="n-fan" class="n"><rect x="1054" y="912" width="67" height="18"/><text class="j" x="1087.5" y="923.5">ファンを作る</text></g>
<g id="n-plugin" class="n"><rect x="913" y="962" width="35" height="19"/><text x="930.5" y="973.5">plugin</text></g>
<g id="n-tsukau" class="n"><rect x="969" y="950" width="37" height="18"/><text class="j" x="987.5" y="961.5">使う人</text></g>
<g id="n-longtail-t" class="n"><rect x="1028" y="937" width="134" height="40"/><text class="l" x="1036" y="955.5">long tail<tspan class="j" x="1036" y="971">（多様なニーズをつかむ）</tspan></text></g>
<g id="n-tsukuru" class="n"><rect x="969" y="983" width="37" height="20"/><text class="j" x="987.5" y="994.5">作る人</text></g>
<g id="n-koken" class="n"><rect x="1028" y="982" width="28" height="18"/><text class="j" x="1042" y="993.5">貢献</text></g>
<g id="n-wsu1" class="n"><rect x="912" y="1030" width="104" height="20"/><text x="964" y="1041.5">wide spread of user</text></g>
<g id="n-spread" class="n"><rect x="1036" y="1007" width="78" height="18"/><text x="1075" y="1018.5">spread quickly</text></g>
<g id="n-brand1" class="n"><rect x="1135" y="1007" width="68" height="18"/><text class="j" x="1169" y="1018.5">ブランド力↑</text></g>
<g id="n-needscal1" class="n"><rect x="1036" y="1030" width="82" height="20"/><text x="1077" y="1041.5">need scalability</text></g>
<g id="n-longtail1" class="n"><rect x="1036" y="1053" width="45" height="20"/><text x="1058.5" y="1064.5">long tail</text></g>
<g id="n-asp" class="n"><rect x="749" y="1181" width="30" height="19"/><text x="764" y="1192.5">ASP</text></g>
<g id="n-free" class="n"><rect x="800" y="1124" width="29" height="19"/><text x="814.5" y="1135.5">Free</text></g>
<g id="n-admodel-r" class="n"><rect x="852" y="1090" width="92" height="19"/><text x="898" y="1101.5">advertising model</text></g>
<g id="n-izon" class="n"><rect x="964" y="1078" width="67" height="19"/><text class="j" x="997.5" y="1089.5">広告主に依存</text></g>
<g id="n-adsence" class="n"><rect x="964" y="1103" width="83" height="18"/><text x="1005.5" y="1114.5">google adsence</text></g>
<g id="n-agregation" class="n"><rect x="1069" y="1100" width="100" height="19"/><text x="1119" y="1111.5"><tspan class="j">広告主の</tspan>agregation</text></g>
<g id="n-wsu2" class="n"><rect x="852" y="1148" width="103" height="19"/><text x="903.5" y="1159.5">wide spread of user</text></g>
<g id="n-needscal2" class="n"><rect x="975" y="1125" width="81" height="19"/><text x="1015.5" y="1136.5">need scalability</text></g>
<g id="n-brand2" class="n"><rect x="975" y="1148" width="68" height="19"/><text class="j" x="1009" y="1159.5">ブランド力↑</text></g>
<g id="n-longtail2" class="n"><rect x="975" y="1172" width="45" height="18"/><text x="997.5" y="1183.5">long tail</text></g>
<g id="n-paying" class="n"><rect x="800" y="1239" width="72" height="20"/><text x="836" y="1250.5">paying model</text></g>
<g id="n-antei" class="n"><rect x="893" y="1193" width="77" height="20"/><text class="j" x="931.5" y="1204.5">安定した収入源</text></g>
<g id="n-koh" class="n"><rect x="893" y="1239" width="65" height="20"/><text x="925.5" y="1250.5">need <tspan class="j">高品質</tspan></text></g>
<g id="n-scal3" class="n"><rect x="980" y="1217" width="54" height="19"/><text x="1007" y="1228.5">scalability</text></g>
<g id="n-security-r" class="n"><rect x="980" y="1240" width="46" height="19"/><text x="1003" y="1251.5">security</text></g>
<g id="n-feature" class="n"><rect x="980" y="1263" width="43" height="19"/><text x="1001.5" y="1274.5">feature</text></g>
<g id="n-solution" class="n"><rect x="893" y="1285" width="71" height="19"/><text x="928.5" y="1296.5">need solution</text></g>
<g id="n-onlinegame" class="n"><rect x="660" y="1377" width="65" height="20"/><text x="692.5" y="1388.5">online game</text></g>
<g id="n-genjitsu" class="n"><rect x="747" y="1367" width="107" height="19"/><text class="j" x="800.5" y="1378.5">ゲーム内世界の現実化</text></g>
<g id="n-ichiba" class="n"><rect x="876" y="1322" width="56" height="19"/><text class="j" x="904" y="1333.5">市場の誕生</text></g>
<g id="n-kinsen" class="n"><rect x="954" y="1309" width="94" height="41"/><text class="l j" x="961" y="1328">金銭のやりとり<tspan x="961" y="1344">（like 地域通貨）</tspan></text></g>
<g id="n-shigoto" class="n"><rect x="876" y="1387" width="56" height="20"/><text class="j" x="904" y="1398.5">仕事の誕生</text></g>
<g id="n-level" class="n"><rect x="954" y="1355" width="78" height="18"/><text class="j" x="993" y="1366.5">レベル上げ請負</text></g>
<g id="n-item" class="n"><rect x="954" y="1377" width="68" height="19"/><text class="j" x="988" y="1388.5">アイテム収集</text></g>
<g id="n-yojinbo" class="n"><rect x="954" y="1400" width="37" height="19"/><text class="j" x="972.5" y="1411.5">用心棒</text></g>
<g id="n-support" class="n"><rect x="954" y="1423" width="47" height="19"/><text class="j" x="977.5" y="1434.5">サポート</text></g>
<g id="n-og-scal" class="n"><rect x="747" y="1446" width="81" height="19"/><text x="787.5" y="1457.5">need scalability</text></g>
</svg>
